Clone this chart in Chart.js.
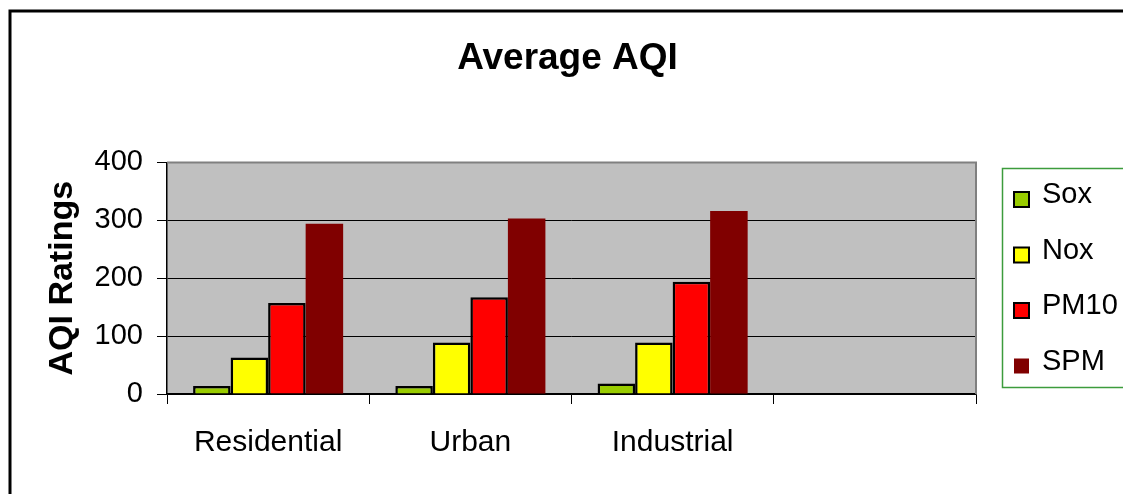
<!DOCTYPE html>
<html>
<head>
<meta charset="utf-8">
<script src="https://cdn.jsdelivr.net/npm/chart.js@4/dist/chart.umd.min.js"></script>
<style>
  html, body { margin: 0; padding: 0; background: #fff; }
  canvas { display: block; }
</style>
</head>
<body>
<canvas id="chart-aqi" width="1123" height="494"></canvas>
<script>
const categories = ["Residential", "Urban", "Industrial", ""];
const soxValues = [14, 14, 18];
const noxValues = [63, 89, 89];
const pm10Values = [157, 167, 194];
const spmValues = [294, 303, 316];
const yTicks = [0, 100, 200, 300, 400];

(function () {
  const sans = "'Liberation Sans', Arial, sans-serif";

  // grey plot area + white page
  const plotBackground = {
    id: "plotBackground",
    beforeDraw(chart) {
      const { ctx, chartArea: a } = chart;
      ctx.save();
      ctx.fillStyle = "#ffffff";
      ctx.fillRect(0, 0, chart.width, chart.height);
      ctx.fillStyle = "#c0c0c0";
      ctx.fillRect(a.left, a.top, a.right - a.left, a.bottom - a.top);
      ctx.restore();
    },
  };

  // plot frame, outer border and the boxed legend
  const frame = {
    id: "frame",
    afterDraw(chart) {
      const { ctx, chartArea: a } = chart;
      ctx.save();
      ctx.strokeStyle = "#808080";
      ctx.lineWidth = 2;
      ctx.beginPath();
      ctx.moveTo(a.left, a.top);
      ctx.lineTo(a.right, a.top);
      ctx.lineTo(a.right, a.bottom);
      ctx.stroke();

      ctx.strokeStyle = "#000";
      ctx.lineWidth = 3;
      ctx.strokeRect(10, 11, chart.width + 20, chart.height + 20);

      const lx = a.right + 26;
      ctx.strokeStyle = "#3c9c3c";
      ctx.lineWidth = 1.5;
      ctx.strokeRect(lx + 0.5, 168.5, 160, 219);

      ctx.font = "29px " + sans;
      ctx.textBaseline = "middle";
      chart.data.datasets.forEach(function (ds, i) {
        const y = 195 + i * 55.5;
        ctx.fillStyle = ds.backgroundColor;
        ctx.fillRect(lx + 12, y - 3, 15, 15);
        if (ds.borderColor === "#000") {
          ctx.strokeStyle = "#000";
          ctx.lineWidth = 2;
          ctx.strokeRect(lx + 12, y - 3, 15, 15);
        }
        ctx.fillStyle = "#000";
        ctx.fillText(ds.label, lx + 40, y);
      });
      ctx.restore();
    },
  };

  const el = document.getElementById("chart-aqi");
  new Chart(el, {
    type: "bar",
    data: {
      labels: categories,
      datasets: [
        { label: "Sox", data: soxValues, backgroundColor: "#99cc00", borderColor: "#000", borderWidth: 2.5 },
        { label: "Nox", data: noxValues, backgroundColor: "#ffff00", borderColor: "#000", borderWidth: 2.5 },
        { label: "PM10", data: pm10Values, backgroundColor: "#ff0000", borderColor: "#000", borderWidth: 2.5 },
        { label: "SPM", data: spmValues, backgroundColor: "#800000", borderColor: "#800000", borderWidth: 0 },
      ],
    },
    options: {
      responsive: false,
      animation: false,
      devicePixelRatio: 1,
      layout: { padding: { top: 0, left: 12, right: 0, bottom: 0 } },
      datasets: { bar: { categoryPercentage: 0.742, barPercentage: 1, borderSkipped: "bottom" } },
      plugins: {
        legend: { display: false },
        tooltip: { enabled: false },
        title: {
          display: true,
          text: "Average AQI",
          color: "#000",
          font: { family: sans, size: 37, weight: "bold", lineHeight: 1.2 },
          padding: { top: 37, bottom: 81 },
        },
      },
      scales: {
        x: {
          offset: true,
          grid: { display: true, drawOnChartArea: false, drawTicks: true, tickLength: 10, color: "#000", offset: true },
          border: { display: true, color: "#000", width: 1.5 },
          ticks: { color: "#000", font: { family: sans, size: 30 }, padding: 21, maxRotation: 0, autoSkip: false },
          afterFit(scale) { scale.height = 100; },
        },
        y: {
          min: yTicks[0],
          max: yTicks[yTicks.length - 1],
          afterBuildTicks(scale) { scale.ticks = yTicks.map((v) => ({ value: v })); },
          grid: { color: "#000", lineWidth: 1, tickLength: 10 },
          border: { display: true, color: "#000", width: 1.5 },
          ticks: { color: "#000", font: { family: sans, size: 29 }, padding: 14 },
          title: {
            display: true,
            text: "AQI Ratings",
            color: "#000",
            font: { family: sans, size: 34, weight: "bold", lineHeight: 1.2 },
            padding: { top: 30, bottom: 0 },
          },
          afterFit(scale) { scale.width = 155; },
        },
        // empty right-hand axis that reserves room for the legend box
        legendSpace: {
          position: "right",
          min: 0,
          max: 1,
          grid: { display: false, drawTicks: false },
          border: { display: false },
          ticks: { display: false },
          afterFit(scale) { scale.width = 147; },
        },
      },
    },
    plugins: [plotBackground, frame],
  });
})();
</script>
</body>
</html>
